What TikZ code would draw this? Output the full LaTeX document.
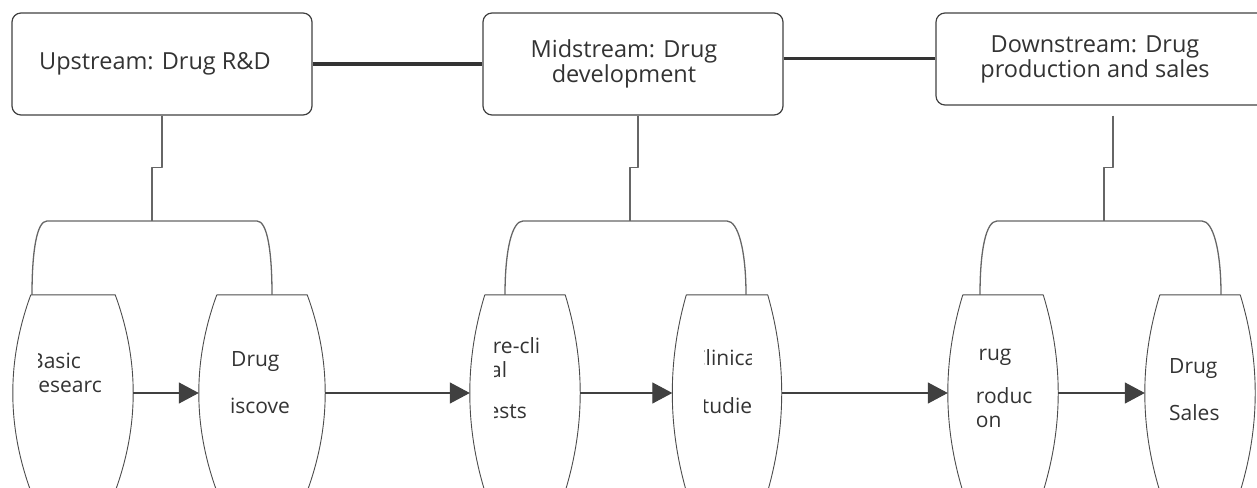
\documentclass[tikz,border=0pt]{standalone}
\usepackage{fontspec}
\setmainfont{Open Sans}
\usetikzlibrary{arrows.meta,calc}

% barrel outline round a step node: #1 node, #2 bulge of the sides
\newcommand{\drawpod}[2]{%
  \draw[podline] ($(#1.north west)+(#2,0)$) -- ($(#1.north east)+(-#2,0)$)
    .. controls +({2*#2/3},32.7) and +(0,-32.7) .. (#1.east)
    .. controls +(0,32.7) and +({2*#2/3},-32.7) .. ($(#1.south east)+(-#2,0)$)
    -- ($(#1.south west)+(#2,0)$)
    .. controls +({-2*#2/3},-32.7) and +(0,32.7) .. (#1.west)
    .. controls +(0,-32.7) and +({-2*#2/3},32.7) .. ($(#1.north west)+(#2,0)$);}

\begin{document}
\begin{tikzpicture}[
    x = 1pt, y = -1pt, % pixel-like units, y grows downwards
    > = {Triangle[length=20pt,width=21pt]}, % arrow head style
    line join = round,
    font = \fontsize{21}{24}\selectfont
  ]

  \tikzstyle{stage}=[rectangle,rounded corners=9pt,draw=black!75,line width=1.2pt,text=black!80,align=center,inner sep=0pt,font=\fontsize{23.5}{25}\selectfont]
  \tikzstyle{pod}=[rectangle,minimum height=196pt,inner sep=0pt]
  \tikzstyle{podline}=[draw=black!70,line width=0.9pt]
  \tikzstyle{podtext}=[inner sep=0pt,text=black!80,anchor=north west,align=left]
  \tikzstyle{bar}=[line width=3pt,black!80]
  \tikzstyle{link}=[line width=1.3pt,black!60]
  \tikzstyle{flow}=[line width=1.3pt,black!75,->]

  \clip (0,0) rectangle (1257,487);

  % the three stages
  \node[stage,minimum width=300pt,minimum height=102pt] (up) at (162,64) {Upstream: Drug R\&D\hspace*{14pt}};
  \node[stage,minimum width=300pt,minimum height=102pt] (mid) at (633,64) {Midstream: Drug\hspace*{18pt}\\development\hspace*{18pt}};
  \node[stage,minimum width=334pt,minimum height=92pt] (down) at (1103,59) {Downstream: Drug\hspace*{16pt}\\production and sales\hspace*{16pt}};

  \draw[bar] (up) -- (mid);
  \draw[bar] (mid.east |- down.west) -- (down.west);

  % the steps
  \node[pod,minimum width=120pt] (p1) at (73,393) {};
  \node[pod,minimum width=126pt] (p2) at (262,393) {};
  \node[pod,minimum width=110pt] (p3) at (525,393) {};
  \node[pod,minimum width=109pt] (p4) at (727,393) {};
  \node[pod,minimum width=110pt] (p5) at (1003,393) {};
  \node[pod,minimum width=110pt] (p6) at (1200,393) {};

  \drawpod{p1}{18}
  \drawpod{p2}{18}
  \drawpod{p3}{15}
  \drawpod{p4}{14}
  \drawpod{p5}{15}
  \drawpod{p6}{15}

  \begin{scope}
    \clip (38,290) rectangle (100,487);
    \node[podtext] (t1) at (30,353) {Basic\\research};
  \end{scope}
  \begin{scope}
    \clip (230,290) rectangle (289,487);
    \node[podtext] (t2) at (231,351) {Drug\\[23pt]\hspace*{-14pt}discovery};
  \end{scope}
  \begin{scope}
    \clip (494,290) rectangle (540,487);
    \node[podtext] (t3) at (480,337) {Pre-clini\\cal\\[17pt]tests};
  \end{scope}
  \begin{scope}
    \clip (704,290) rectangle (751,487);
    \node[podtext,anchor=north,align=center] (t4) at (727,349) {Clinical\\[24pt]studies};
  \end{scope}
  \begin{scope}
    \clip (977,290) rectangle (1031,487);
    \node[podtext] (t5) at (963,345) {Drug\\[19pt]Produc\\tion};
  \end{scope}
  \begin{scope}
    \clip (1169,290) rectangle (1240,487);
    \node[podtext] (t6) at (1169,358) {Drug\\[23pt]Sales};
  \end{scope}

  % stage to steps
  \coordinate (j1) at (152,221);
  \coordinate (j2) at (630,221);
  \coordinate (j3) at (1104,221);

  \draw[link] (up.south) -- ++(0,52) -| (j1);
  \draw[link] ($(mid.south)+(5,0)$) -- ++(0,52) -| (j2);
  \draw[link] ($(down.south)+(10,10)$) -- ++(0,52) -| (j3);

  \draw[link] ($(p1.north)+(-41,0)$) .. controls +(0,-45) and +(-10,0) .. ($(j1)+(-105,0)$) -- ($(j1)+(105,0)$) .. controls +(10,0) and +(0,-45) .. ($(p2.north)+(10,0)$);
  \draw[link] ($(p3.north)+(-20,0)$) .. controls +(0,-45) and +(-11,0) .. ($(j2)+(-107,0)$) -- ($(j2)+(97,0)$) .. controls +(11,0) and +(0,-45) .. ($(p4.north)+(19,0)$);
  \draw[link] ($(p5.north)+(-23,0)$) .. controls +(0,-45) and +(-11,0) .. ($(j3)+(-107,0)$) -- ($(j3)+(98,0)$) .. controls +(11,0) and +(0,-45) .. ($(p6.north)+(21,0)$);

  % flow of work
  \path (p1) edge[flow] (p2);
  \path (p2) edge[flow] (p3);
  \path (p3) edge[flow] (p4);
  \path (p4) edge[flow] (p5);
  \path (p5) edge[flow] (p6);

\end{tikzpicture}
\end{document}
